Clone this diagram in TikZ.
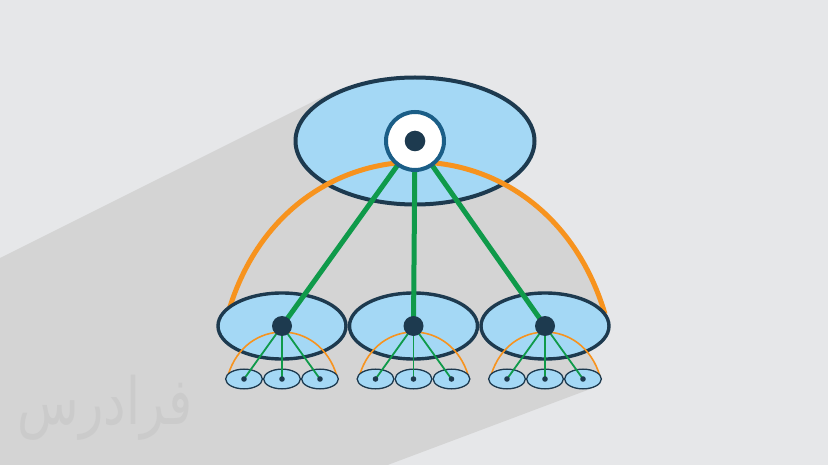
\documentclass[tikz,border=0pt]{standalone}
\usepackage{fontspec}
\newfontfamily\arabicfont[Script=Arabic]{DejaVu Sans}
\TeXXeTstate=1
\usetikzlibrary{shapes.geometric}
\definecolor{bgc}{HTML}{E6E7E9}
\definecolor{shadec}{HTML}{D4D4D4}
\definecolor{wmc}{HTML}{CBCBCB}
\definecolor{lblue}{HTML}{A4D8F5}
\definecolor{navy}{HTML}{1D3A4F}
\definecolor{ringc}{HTML}{1B5E87}
\definecolor{orng}{HTML}{F7931E}
\definecolor{grn}{HTML}{0F9A4A}
\begin{document}
\begin{tikzpicture}[x=1pt,y=-1pt,
  bigell/.style={ellipse, draw=navy, fill=lblue, line width=4pt, minimum width=239pt, minimum height=127pt, inner sep=0pt},
  midell/.style={ellipse, draw=navy, fill=lblue, line width=3.4pt, minimum width=128pt, minimum height=66pt, inner sep=0pt},
  smell/.style={ellipse, draw=navy, fill=lblue, line width=1.3pt, minimum width=36.7pt, minimum height=19.7pt, inner sep=0pt},
  bigarc/.style={draw=orng, line width=5pt},
  smarc/.style={draw=orng, line width=1.6pt},
  biglink/.style={draw=grn, line width=5pt},
  smlink/.style={draw=grn, line width=1.8pt},
  ringnode/.style={circle, draw=ringc, fill=white, line width=4pt, minimum size=58pt, inner sep=0pt},
  bigdot/.style={circle, fill=navy, minimum size=20.6pt, inner sep=0pt},
  middot/.style={circle, fill=navy, minimum size=20pt, inner sep=0pt},
  smdot/.style={circle, fill=navy, minimum size=5.6pt, inner sep=0pt},
  shadefill/.style={fill=shadec}
]
\useasboundingbox (0,0) rectangle (828,465);
\fill[bgc] (0,0) rectangle (828,465);
% long shadow
\fill[shadefill] (0,258) -- (332.5,92) -- (415,141) -- (545,326) -- (599.9,376) -- (602,379) -- (593.7,387.7) -- (387.6,465) -- (0,465) -- cycle;
\fill[shadefill] (229,310) .. controls (289,112) and (545,112) .. (605,314) -- cycle;
\foreach \x in {282,413.5,545} {
  \fill[shadefill] (\x-53.8,374.8) .. controls (\x-36.4,317.6) and (\x+37.6,317.6) .. (\x+54.9,376) -- cycle;
}
% watermark
\node[text=wmc, font=\arabicfont\fontsize{58}{60}\selectfont, inner sep=0pt, xscale=0.87, yscale=1.12] (wm) at (105,408) {\beginR فرادرس\endR};
% coordinates
\coordinate (T) at (415,141);
\foreach \i/\x in {1/282,2/413.5,3/545} {
  \coordinate (m\i) at (\x,326);
  \foreach \k/\dx in {a/-38,b/0,c/38} {
    \coordinate (s\i\k) at (\x+\dx,379);
  }
}
% top ellipse
\node[bigell] (topell) at (T) {};
% big arc
\draw[bigarc] (229,310) .. controls (289,112) and (545,112) .. (605,314);
% middle ellipses
\foreach \i in {1,2,3} { \node[midell] (mell\i) at (m\i) {}; }
% small arcs
\foreach \x in {282,413.5,545} {
  \draw[smarc] (\x-53.8,374.8) .. controls (\x-36.4,317.6) and (\x+37.6,317.6) .. (\x+54.9,376);
}
% small ellipses
\foreach \i in {1,2,3} {
  \foreach \k in {a,b,c} { \node[smell] (sell\i\k) at (s\i\k) {}; }
}
% links
\foreach \i in {1,2,3} { \draw[biglink] (T) -- (m\i); }
\foreach \i in {1,2,3} {
  \foreach \k in {a,b,c} { \draw[smlink] (m\i) -- (s\i\k); }
}
% dots
\node[ringnode] (ring) at (T) {};
\node[bigdot] (tdot) at (T) {};
\foreach \i in {1,2,3} {
  \node[middot] (mdot\i) at (m\i) {};
  \foreach \k in {a,b,c} { \node[smdot] (sdot\i\k) at (s\i\k) {}; }
}
\end{tikzpicture}
\end{document}
